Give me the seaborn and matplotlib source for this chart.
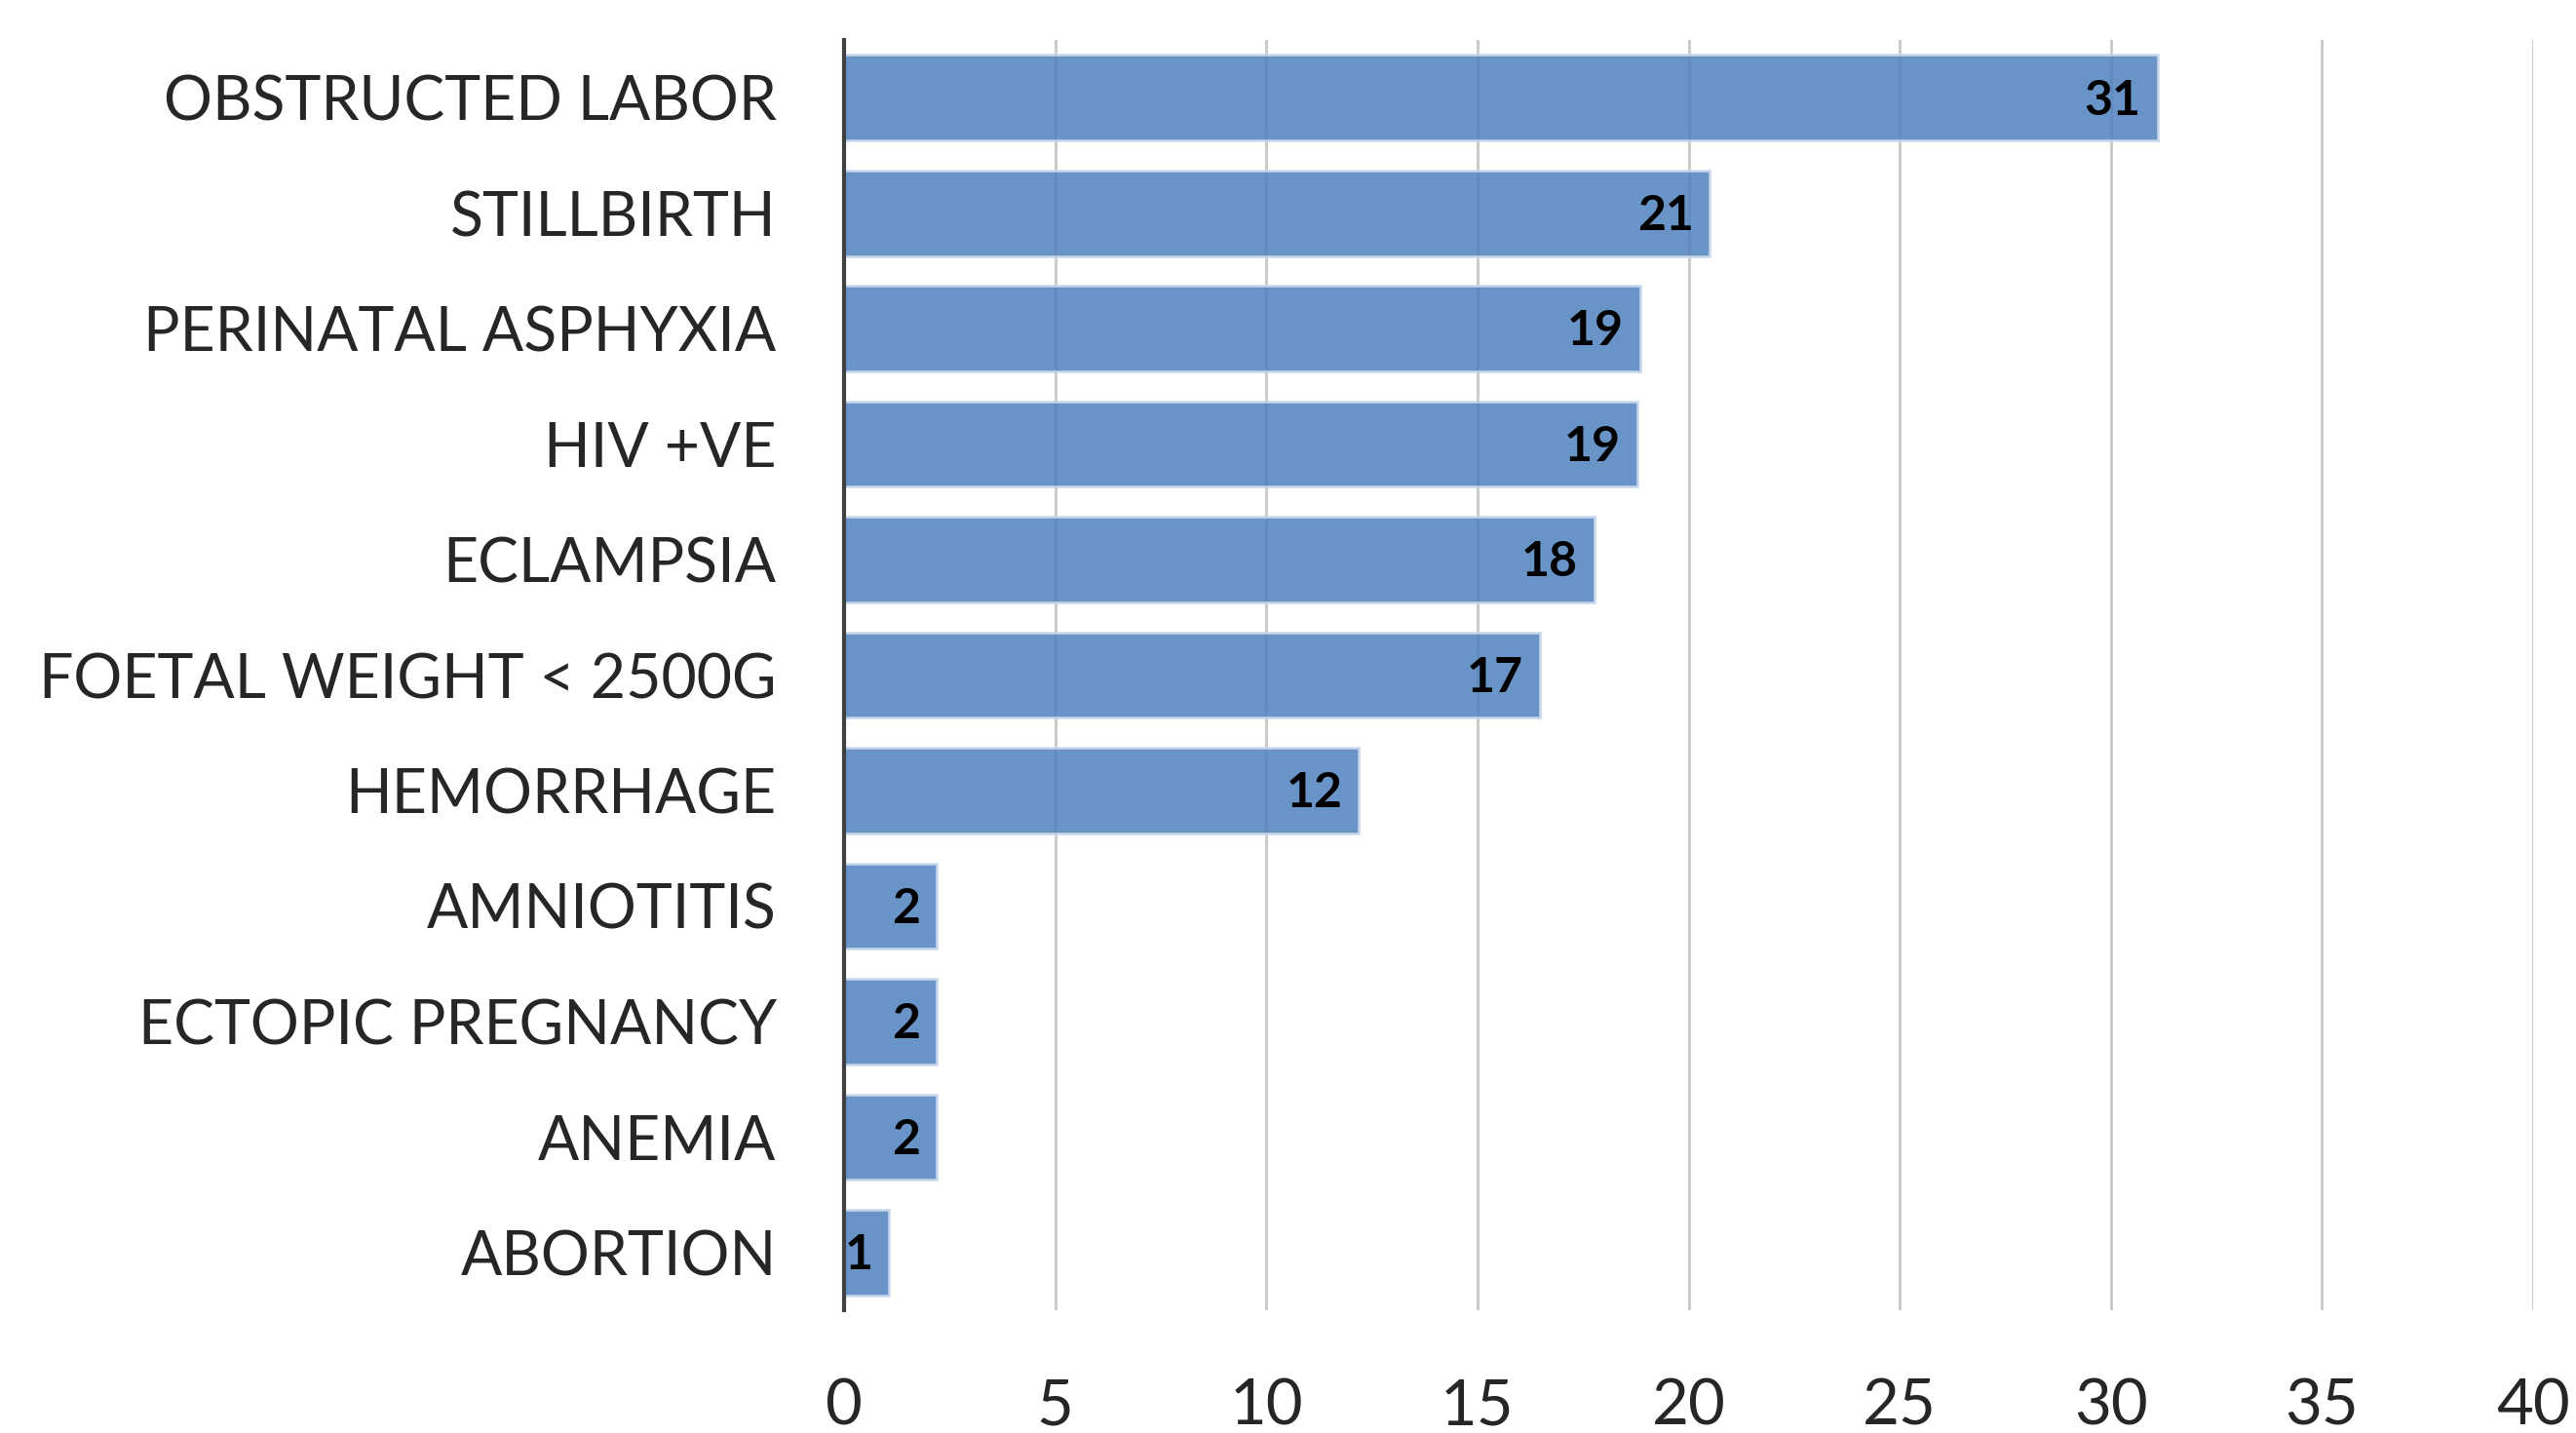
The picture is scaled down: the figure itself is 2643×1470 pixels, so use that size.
import pandas as pd
import matplotlib
matplotlib.use("agg")
import matplotlib.pyplot as plt
import seaborn as sns

categories = ["OBSTRUCTED LABOR", "STILLBIRTH", "PERINATAL ASPHYXIA", "HIV +VE",
              "ECLAMPSIA", "FOETAL WEIGHT < 2500G", "HEMORRHAGE", "AMNIOTITIS",
              "ECTOPIC PREGNANCY", "ANEMIA", "ABORTION"]
values = [31.1, 20.5, 18.85, 18.78, 17.76, 16.47, 12.18, 2.18, 2.18, 2.18, 1.07]
value_labels = ["31", "21", "19", "19", "18", "17", "12", "2", "2", "2", "1"]
x_ticks = [0, 5, 10, 15, 20, 25, 30, 35, 40]

df = pd.DataFrame({"cause": categories, "count": values})

sns.set_style("white")
plt.rcParams["font.family"] = ["Lato", "DejaVu Sans"]

fig = plt.figure(figsize=(26.43, 14.70), dpi=100)
ax = fig.add_axes([0.3277, 0.0857, 0.6557, 0.8864])

ax.grid(axis="x", color="#C8C8C8", linewidth=2)
ax.set_axisbelow(True)

sns.barplot(data=df, x="count", y="cause", orient="h", color="#4F81BD",
            width=0.74, alpha=0.85, edgecolor="#C9D8EC", linewidth=2,
            saturation=1, ax=ax)

for i, (v, lab) in enumerate(zip(values, value_labels)):
    ax.annotate(lab, xy=(v, i), xytext=(-12, -2), textcoords="offset points",
                ha="right", va="center", fontsize=36, fontweight="bold",
                color="black")

ax.set_xlim(0, 40)
ax.set_ylim(10.5, -0.5)
ax.set_xticks(x_ticks)
ax.set_xticklabels([str(t) for t in x_ticks])
ax.set_xlabel("")
ax.set_ylabel("")
ax.tick_params(axis="x", length=0, pad=50, labelsize=47)
ax.tick_params(axis="y", length=0, pad=50, labelsize=45)

for s in ["top", "right", "bottom"]:
    ax.spines[s].set_visible(False)
ax.spines["left"].set_color("#404040")
ax.spines["left"].set_linewidth(3)

# clipped text fragment at the right edge
fig.text(1.0, 0.22, "4", fontsize=46, ha="left", va="center")

fig.savefig("out.png", dpi=100)
